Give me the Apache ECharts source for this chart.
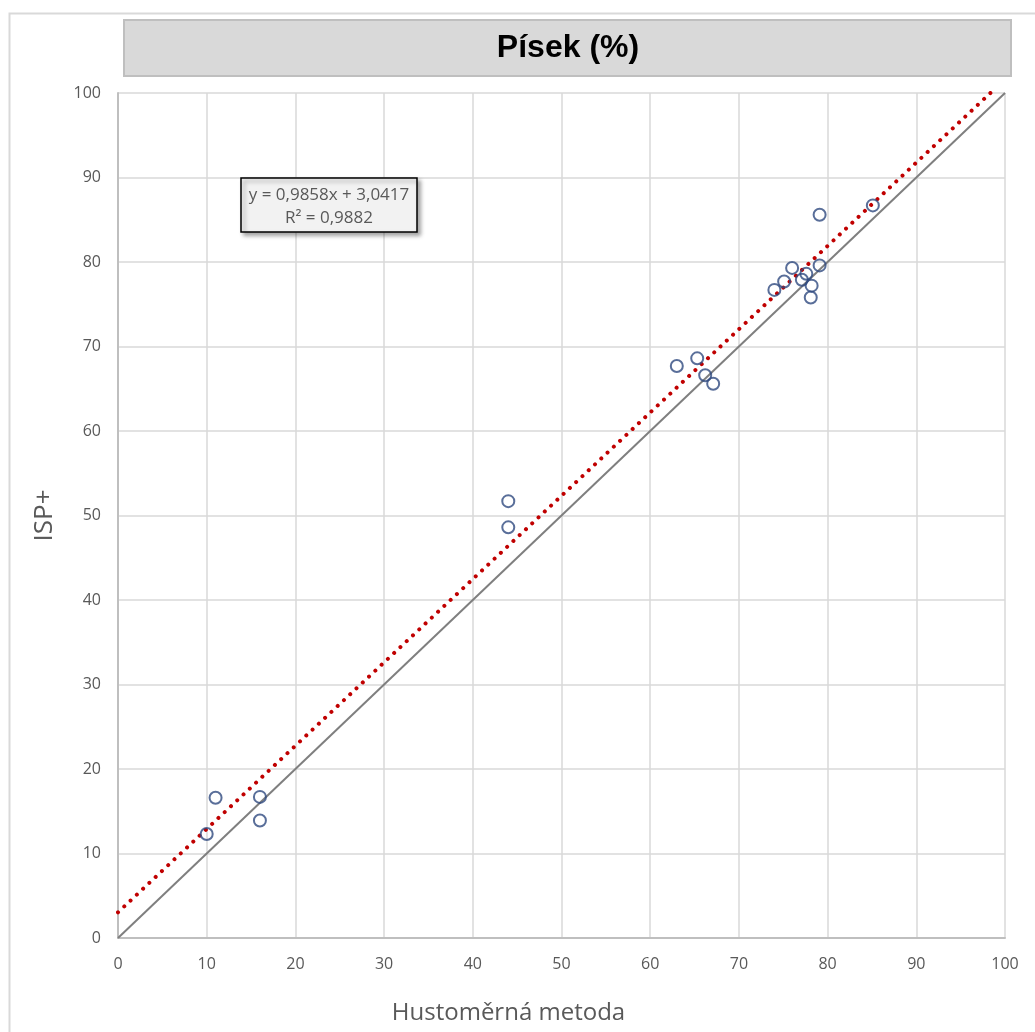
<!DOCTYPE html>
<html><head><meta charset="utf-8">
<script src="https://cdn.jsdelivr.net/npm/echarts@6/dist/echarts.min.js"></script>
<style>html,body{margin:0;padding:0;background:#fff}#c{width:1035px;height:1032px}</style>
</head><body><div id="c"></div>
<script>
const titleText = 'Písek (%)';
const xName = 'Hustoměrná metoda';
const yName = 'ISP+';
const hustomerna = [10, 11, 16, 16, 44, 44, 63, 65.3, 66.2, 67.1, 85.1, 79.1, 76.0, 79.1, 77.6, 75.1, 77.1, 74.0, 78.2, 78.1];
const ispPlus    = [12.3, 16.6, 16.7, 13.9, 51.7, 48.6, 67.7, 68.6, 66.6, 65.6, 86.7, 85.6, 79.3, 79.6, 78.6, 77.7, 77.9, 76.7, 77.2, 75.8];
const slope = 0.9858;
const intercept = 3.0417;
const rSquared = '0,9882';
const trendEndX = (100 - intercept) / slope;
const trendX = [0, trendEndX];
const identityX = [0, 100];

const chart = echarts.init(document.getElementById('c'));
const font = 'Open Sans, Liberation Sans, sans-serif';
chart.setOption({
  animation: false,
  backgroundColor: '#fff',
  grid: {left: 118, top: 93, width: 887, height: 845},
  xAxis: {
    type: 'value', min: 0, max: 100, interval: 10,
    name: xName, nameLocation: 'middle', nameGap: 63,
    nameTextStyle: {color: '#595959', fontSize: 24, fontFamily: font, padding: [0, 106, 0, 0]},
    axisLine: {show: true, lineStyle: {color: '#bfbfbf', width: 2}},
    axisTick: {show: false},
    axisLabel: {color: '#595959', fontSize: 16, fontFamily: font, margin: 18},
    splitLine: {show: true, lineStyle: {color: '#d9d9d9', width: 1.5}}
  },
  yAxis: {
    type: 'value', min: 0, max: 100, interval: 10,
    name: yName, nameLocation: 'middle', nameGap: 60,
    nameTextStyle: {color: '#595959', fontSize: 26, fontFamily: font},
    axisLine: {show: true, lineStyle: {color: '#bfbfbf', width: 2}},
    axisTick: {show: false},
    axisLabel: {color: '#595959', fontSize: 16, fontFamily: font, margin: 17},
    splitLine: {show: true, lineStyle: {color: '#d9d9d9', width: 1.5}}
  },
  series: [
    {
      type: 'line', silent: true, symbol: 'none',
      data: identityX.map(v => [v, v]),
      lineStyle: {color: '#7f7f7f', width: 2},
      z: 2
    },
    {
      type: 'line', silent: true, symbol: 'none',
      data: trendX.map(v => [v, slope * v + intercept]),
      lineStyle: {color: '#c00000', width: 4, type: [0.01, 8.6], cap: 'round'},
      z: 3
    },
    {
      type: 'scatter',
      data: hustomerna.map((x, i) => [x, ispPlus[i]]),
      symbol: 'circle', symbolSize: 12,
      itemStyle: {color: 'rgba(255,255,255,0)', borderColor: '#2f4a80', borderWidth: 2},
      z: 4
    }
  ],
  graphic: [
    {type: 'rect', left: 7, top: 11, shape: {width: 1060, height: 1060}, style: {fill: 'none', stroke: '#d9d9d9', lineWidth: 2}, z: -10},
    {type: 'rect', left: 123, top: 19, shape: {width: 887, height: 56}, style: {fill: '#d9d9d9', stroke: '#bfbfbf', lineWidth: 2}, z: 10},
    {type: 'text', style: {x: 568, y: 48, text: titleText, fill: '#000', font: 'bold 32px "Liberation Sans", Arial, sans-serif', align: 'center', verticalAlign: 'middle'}, z: 11},
    {type: 'rect', shape: {x: 241, y: 178, width: 176, height: 54}, style: {fill: '#f2f2f2', stroke: '#000', lineWidth: 1.5, shadowBlur: 4, shadowOffsetX: 3, shadowOffsetY: 3, shadowColor: 'rgba(0,0,0,0.35)'}, z: 10},
    {type: 'text', style: {x: 329, y: 184, text: 'y = 0,9858x + 3,0417\nR² = ' + rSquared, fill: '#595959', font: '17px "Open Sans", sans-serif', align: 'center', lineHeight: 23}, z: 11}
  ]
});
</script></body></html>
